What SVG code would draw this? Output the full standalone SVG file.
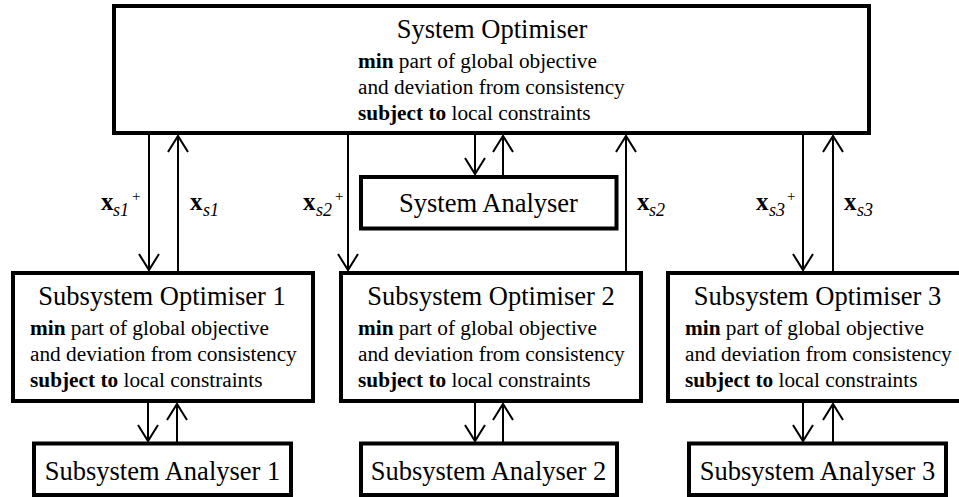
<svg xmlns="http://www.w3.org/2000/svg" width="959" height="497" viewBox="0 0 959 497">
<style>
  .box { fill: #fff; stroke: #000; stroke-width: 4; }
  text { font-family: 'Liberation Serif', 'Times New Roman', serif; fill: #000; }
  .title { font-size: 26.5px; text-anchor: middle; }
  .body { font-size: 21.3px; }
  .b { font-weight: bold; }
  .xv { font-size: 25px; font-weight: bold; }
  .sub { font-size: 18px; font-style: italic; }
  .sup { font-size: 15px; }
  .conn line { stroke: #000; stroke-width: 2; marker-end: url(#arr); }
</style>
<defs>
  <marker id="arr" markerUnits="userSpaceOnUse" viewBox="-20 -12 24 24" markerWidth="24" markerHeight="24" refX="0" refY="0" orient="auto" overflow="visible">
    <path d="M-16,-10 L0,0 L-16,10" fill="none" stroke="#000" stroke-width="2"/>
  </marker>
</defs>
<rect width="959" height="497" fill="#fff"/>

<g id="connectors" class="conn">
  <line x1="149" y1="133" x2="149" y2="270"/>
  <line x1="178" y1="273" x2="178" y2="136"/>
  <line x1="348" y1="133" x2="348" y2="270"/>
  <line x1="626" y1="273" x2="626" y2="136"/>
  <line x1="803" y1="133" x2="803" y2="270"/>
  <line x1="833" y1="273" x2="833" y2="136"/>
  <line x1="475" y1="133" x2="475" y2="174"/>
  <line x1="503" y1="177" x2="503" y2="136"/>
  <line x1="148" y1="401" x2="148" y2="441"/>
  <line x1="177" y1="443" x2="177" y2="404"/>
  <line x1="475" y1="401" x2="475" y2="441"/>
  <line x1="503" y1="443" x2="503" y2="404"/>
  <line x1="803" y1="401" x2="803" y2="441"/>
  <line x1="833" y1="443" x2="833" y2="404"/>
</g>

<g id="labels">
  <text><tspan class="xv" x="101" y="210">x</tspan><tspan class="sub" x="113" y="216">s1</tspan><tspan class="sup" x="132" y="201">+</tspan></text>
  <text><tspan class="xv" x="190" y="210">x</tspan><tspan class="sub" x="203" y="216">s1</tspan></text>
  <text><tspan class="xv" x="303" y="210">x</tspan><tspan class="sub" x="316" y="216">s2</tspan><tspan class="sup" x="335" y="201">+</tspan></text>
  <text><tspan class="xv" x="637" y="210">x</tspan><tspan class="sub" x="649" y="216">s2</tspan></text>
  <text><tspan class="xv" x="756" y="210">x</tspan><tspan class="sub" x="769" y="216">s3</tspan><tspan class="sup" x="787" y="201">+</tspan></text>
  <text><tspan class="xv" x="844" y="210">x</tspan><tspan class="sub" x="857" y="216">s3</tspan></text>
</g>

<g id="system-optimiser">
  <rect class="box" x="114" y="6" width="755" height="127"/>
  <text class="title" x="492" y="38">System Optimiser</text>
  <text class="body" x="358" y="68"><tspan class="b">min</tspan> part of global objective</text>
  <text class="body" x="358" y="94">and deviation from consistency</text>
  <text class="body" x="358" y="120"><tspan class="b">subject to</tspan> local constraints</text>
</g>

<g id="system-analyser">
  <rect class="box" x="361" y="177" width="255.5" height="51.5"/>
  <text class="title" x="488.5" y="212">System Analyser</text>
</g>

<g id="subsystem-optimiser-1">
  <rect class="box" x="13" y="273" width="300" height="128"/>
  <text class="title" x="162" y="305">Subsystem Optimiser 1</text>
  <text class="body" x="30" y="335"><tspan class="b">min</tspan> part of global objective</text>
  <text class="body" x="30" y="361">and deviation from consistency</text>
  <text class="body" x="30" y="387"><tspan class="b">subject to</tspan> local constraints</text>
</g>

<g id="subsystem-optimiser-2">
  <rect class="box" x="341" y="273" width="300" height="128"/>
  <text class="title" x="491" y="305">Subsystem Optimiser 2</text>
  <text class="body" x="358" y="335"><tspan class="b">min</tspan> part of global objective</text>
  <text class="body" x="358" y="361">and deviation from consistency</text>
  <text class="body" x="358" y="387"><tspan class="b">subject to</tspan> local constraints</text>
</g>

<g id="subsystem-optimiser-3">
  <rect class="box" x="668" y="273" width="300" height="128"/>
  <text class="title" x="817.5" y="305">Subsystem Optimiser 3</text>
  <text class="body" x="685" y="335"><tspan class="b">min</tspan> part of global objective</text>
  <text class="body" x="685" y="361">and deviation from consistency</text>
  <text class="body" x="685" y="387"><tspan class="b">subject to</tspan> local constraints</text>
</g>

<g id="subsystem-analyser-1">
  <rect class="box" x="34" y="443.5" width="257" height="51.5"/>
  <text class="title" x="162.5" y="480">Subsystem Analyser 1</text>
</g>

<g id="subsystem-analyser-2">
  <rect class="box" x="361" y="443.5" width="256" height="51.5"/>
  <text class="title" x="488.5" y="480">Subsystem Analyser 2</text>
</g>

<g id="subsystem-analyser-3">
  <rect class="box" x="689" y="443.5" width="257" height="51.5"/>
  <text class="title" x="817.5" y="480">Subsystem Analyser 3</text>
</g>
</svg>
